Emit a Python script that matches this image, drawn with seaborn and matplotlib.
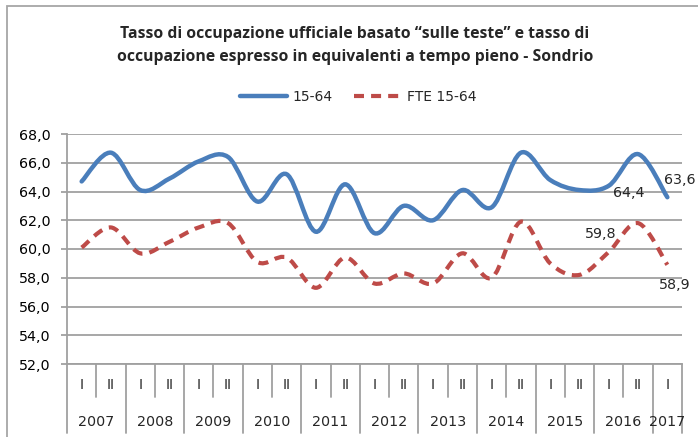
import numpy as np
import pandas as pd
import matplotlib
matplotlib.use("Agg")
import matplotlib.pyplot as plt
import seaborn as sns
from matplotlib.path import Path
from matplotlib.patches import PathPatch, Rectangle
from matplotlib.lines import Line2D

# ---- data ----
years = ["2007", "2008", "2009", "2010", "2011", "2012", "2013", "2014", "2015", "2016", "2017"]
semesters = ["I", "II"] * 10 + ["I"]
tasso_15_64 = [64.7, 66.7, 64.1, 64.9, 66.1, 66.4, 63.3, 65.2, 61.2, 64.5, 61.1,
               63.0, 62.0, 64.1, 62.9, 66.7, 64.8, 64.1, 64.4, 66.6, 63.6]
fte_15_64 = [60.1, 61.5, 59.7, 60.5, 61.5, 61.8, 59.1, 59.4, 57.3, 59.4, 57.6,
             58.3, 57.6, 59.7, 58.0, 61.9, 59.0, 58.2, 59.8, 61.8, 58.9]
series_names = ["15-64", "FTE 15-64"]
y_ticks = [52, 54, 56, 58, 60, 62, 64, 66, 68]

df = pd.DataFrame({"idx": np.arange(len(semesters)), "sem": semesters,
                   "15-64": tasso_15_64, "FTE 15-64": fte_15_64})

sns.set_theme(style="white")
plt.rcParams["font.family"] = ["DejaVu Sans"]

BLUE = "#4A7EBB"
RED = "#BE4B48"
GRID = "#A0A0A0"

fig = plt.figure(figsize=(6.98, 4.37), dpi=100)
ax = fig.add_axes([67 / 698, 1 - 364 / 437, (682 - 67) / 698, (364 - 134) / 437])


def smooth_path(xs, ys):
    pts = np.column_stack([xs, ys]).astype(float)
    n = len(pts)
    verts = [pts[0]]
    codes = [Path.MOVETO]
    for i in range(n - 1):
        p0 = pts[i - 1] if i > 0 else pts[i]
        p1 = pts[i]
        p2 = pts[i + 1]
        p3 = pts[i + 2] if i + 2 < n else pts[i + 1]
        c1 = p1 + (p2 - p0) / 6.0
        c2 = p2 - (p3 - p1) / 6.0
        verts += [c1, c2, p2]
        codes += [Path.CURVE4] * 3
    return Path(verts, codes)


blue_patch = PathPatch(smooth_path(df["idx"], df["15-64"]), facecolor="none",
                       edgecolor=BLUE, lw=3.2, zorder=3)
blue_patch.set_capstyle("round")
ax.add_patch(blue_patch)
red_patch = PathPatch(smooth_path(df["idx"], df["FTE 15-64"]), facecolor="none",
                      edgecolor=RED, lw=3.0, linestyle=(0, (2.4, 1.7)), zorder=3)
red_patch.set_capstyle("butt")
ax.add_patch(red_patch)

ax.set_xlim(-0.5, len(semesters) - 0.5)
ax.set_ylim(52, 68)
ax.set_yticks(y_ticks)
ax.set_yticklabels([f"{v:.1f}".replace(".", ",") for v in y_ticks], fontsize=10.3, color="#000000")
ax.set_xticks([])
ax.yaxis.grid(True, color=GRID, lw=1.3)
ax.set_axisbelow(True)
ax.tick_params(axis="y", which="both", left=True, length=4, width=1.3, color=GRID, pad=8)
for s in ["top", "right"]:
    ax.spines[s].set_visible(False)
ax.spines["left"].set_color(GRID)
ax.spines["left"].set_linewidth(1.3)
ax.spines["bottom"].set_color(GRID)
ax.spines["bottom"].set_linewidth(1.3)

# multi-level category axis
tr = ax.get_xaxis_transform()
n = len(semesters)
for j in range(n + 1):
    xb = j - 0.5
    long = (j % 2 == 0) or j == n
    y1 = -0.30 if long else -0.143
    ax.add_line(Line2D([xb, xb], [0, y1], transform=tr, color=GRID, lw=1.3, clip_on=False))
for i, s in enumerate(semesters):
    ax.text(i, -0.092, s, transform=tr, ha="center", va="center", fontsize=10, clip_on=False)
for k, yr in enumerate(years):
    xc = 2 * k + 0.5 if 2 * k + 1 < n else 2 * k
    ax.text(xc, -0.25, yr, transform=tr, ha="center", va="center", fontsize=10.3, clip_on=False)

# data labels
def lab(i, vals, dx, dy):
    ax.annotate(f"{vals[i]:.1f}".replace(".", ","), (i, vals[i]), xytext=(dx, dy),
                textcoords="offset pixels", ha="center", va="center", fontsize=10.3,
                annotation_clip=False)

lab(18, tasso_15_64, 19.5, -7)
lab(20, tasso_15_64, 12, 17)
lab(18, fte_15_64, -8, 18)
lab(20, fte_15_64, 7.5, -20)

# title
fig.text(355 / 698, 1 - 34 / 437, "Tasso di occupazione ufficiale basato “sulle teste” e tasso di",
         ha="center", va="center", fontsize=11.3, fontweight="bold", family="Open Sans")
fig.text(355 / 698, 1 - 57 / 437, "occupazione espresso in equivalenti a tempo pieno - Sondrio",
         ha="center", va="center", fontsize=11.3, fontweight="bold", family="Open Sans")

# legend
handles = [Line2D([], [], color=BLUE, lw=3.2),
           Line2D([], [], color=RED, lw=3.0, linestyle=(0, (2.4, 1.7)))]
fig.legend(handles, series_names, loc="center", bbox_to_anchor=(358 / 698, 1 - 97 / 437),
           ncol=2, frameon=False, fontsize=10, handlelength=3.4, handletextpad=0.4,
           columnspacing=1.5)

# outer border
fig.patches.append(Rectangle((7 / 698, -0.05), 1.1, 1 - 6 / 437 + 0.05, transform=fig.transFigure,
                             fill=False, edgecolor="#A6A6A6", lw=1.3))

fig.savefig("out.png", dpi=100)
